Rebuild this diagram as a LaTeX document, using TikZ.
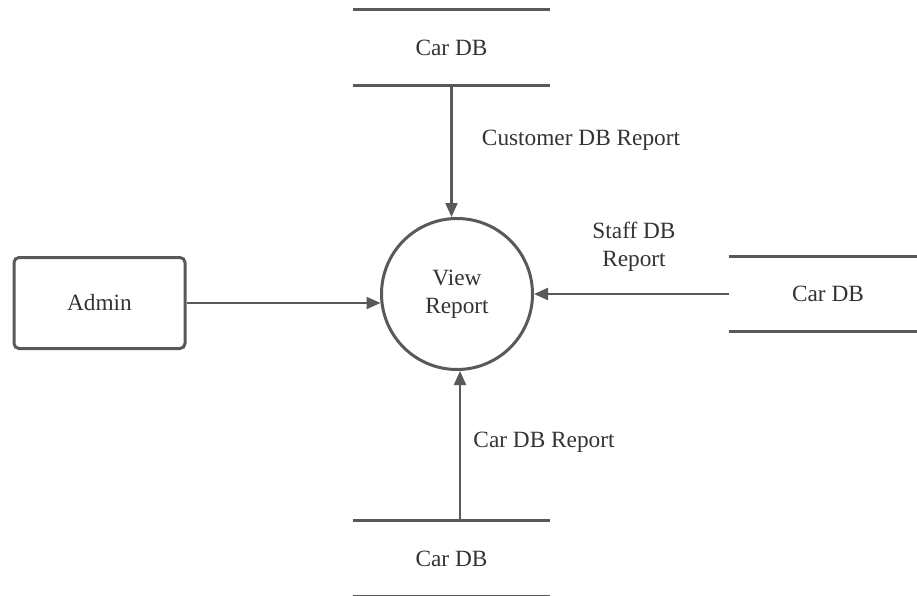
\documentclass[tikz,border=0pt]{standalone}
\usepackage{fontspec}
\setmainfont{Liberation Serif}
\usetikzlibrary{arrows.meta}
\definecolor{ln}{HTML}{595959}
\definecolor{tx}{HTML}{333333}
\begin{document}
\begin{tikzpicture}[x=1pt,y=-1pt,
  every node/.style={text=tx,font=\fontsize{23.3}{28}\selectfont,align=center},
  store/.style={minimum width=197pt,minimum height=75pt,inner sep=0pt},
  storeline/.style={draw=ln,line width=3pt},
  arr/.style={draw=ln,line width=2.2pt,-{Triangle[length=14pt,width=12pt]}},
  lbl/.style={inner sep=0pt}]
\useasboundingbox (0,0) rectangle (917,596);
% nodes
\node[store] (topdb) at (451.5,47.5) {Car DB};
\node[store] (botdb) at (451.5,558.5) {Car DB};
\node[store,minimum width=188pt] (rdb) at (823,294) {\hspace*{10pt}Car DB};
\node[circle,draw=ln,line width=3pt,minimum size=151pt,inner sep=0pt] (vr) at (457,294) {View\\Report};
\node[draw=ln,line width=3pt,rounded corners=5pt,minimum width=171pt,minimum height=91pt] (admin) at (99.5,303) {Admin};
% store lines
\foreach \s in {topdb,botdb,rdb}{
  \draw[storeline] (\s.north west) -- (\s.north east);
  \draw[storeline] (\s.south west) -- (\s.south east);
}
% connectors
\draw[arr] (topdb.south) -- (topdb.south |- vr.north);
\draw[arr] ([xshift=8.5pt]botdb.north) -- ([xshift=3pt]vr.south);
\draw[arr] (rdb.west) -- (vr.east);
\draw[arr] (admin.east) -- ([xshift=0.5pt]admin.east -| vr.west);
% labels
\node[lbl] (l1) at (581,140) {Customer DB Report};
\node[lbl] (l2) at (634,247) {Staff DB\\Report};
\node[lbl] (l3) at (544,442) {Car DB Report};
\end{tikzpicture}
\end{document}
